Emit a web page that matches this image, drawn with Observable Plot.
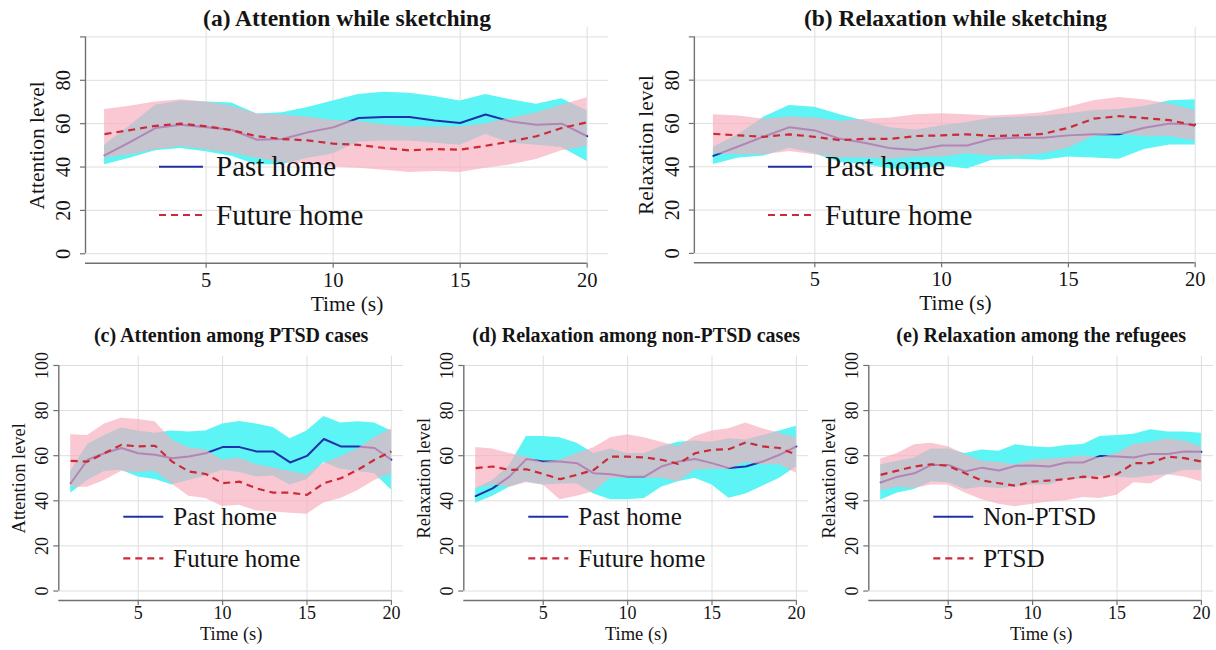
<!DOCTYPE html>
<html>
<head>
<meta charset="utf-8">
<script src="https://cdn.jsdelivr.net/npm/d3@7"></script>
<script src="https://cdn.jsdelivr.net/npm/@observablehq/plot@0.6"></script>
<style>
  body { margin: 0; background: #fff; }
  #fig { position: relative; width: 1216px; height: 650px; overflow: hidden; background: #fff;
         font-family: "Liberation Serif", "Times New Roman", "DejaVu Serif", serif; }
  .panel { position: absolute; }
  #overlay { position: absolute; left: 0; top: 0; pointer-events: none; }
</style>
</head>
<body>
<div id="fig"></div>
<script>
// Time axis (seconds) and tick values
const TIME = [1, 2, 3, 4, 5, 6, 7, 8, 9, 10, 11, 12, 13, 14, 15, 16, 17, 18, 19, 20];
const X_TICKS = [5, 10, 15, 20];
const Y_TICKS_TOP = [0, 20, 40, 60, 80];
const Y_TICKS_BOTTOM = [0, 20, 40, 60, 80, 100];
const Y_GRID = [0, 20, 40, 60, 80, 100];

// (a) Attention while sketching
const attnPastMean = [45.4, 51.5, 58.0, 59.5, 58.3, 57.2, 52.6, 52.9, 56.0, 58.3, 62.6, 63.1, 63.1, 61.5, 60.3, 64.2, 61.0, 59.5, 60.0, 54.2];
const attnPastLo   = [41.0, 44.0, 47.5, 48.5, 47.0, 45.0, 41.0, 41.0, 44.0, 46.0, 51.5, 52.0, 52.0, 51.0, 50.0, 55.0, 51.0, 50.0, 49.0, 42.6];
const attnPastHi   = [50.0, 59.0, 68.5, 70.5, 70.0, 69.5, 64.5, 65.0, 67.5, 70.5, 73.5, 74.5, 74.0, 72.5, 70.5, 73.5, 71.0, 69.0, 71.5, 66.0];
const attnFutMean  = [55.2, 57.0, 59.0, 60.0, 58.8, 57.0, 54.2, 52.9, 52.3, 50.8, 50.2, 48.8, 47.7, 48.3, 48.0, 49.8, 51.8, 54.2, 58.0, 60.6];
const attnFutLo    = [44.0, 45.5, 48.0, 49.5, 48.0, 46.5, 44.0, 42.0, 41.5, 40.0, 39.5, 38.5, 37.5, 38.0, 37.5, 39.5, 41.0, 43.5, 47.5, 49.5];
const attnFutHi    = [66.5, 68.0, 70.0, 71.0, 70.0, 68.0, 64.5, 64.0, 63.0, 61.5, 61.0, 59.5, 58.5, 58.5, 58.5, 60.0, 62.5, 65.0, 68.5, 72.0];

// (b) Relaxation while sketching
const relaxPastMean = [45.0, 49.5, 54.0, 58.3, 56.8, 52.9, 51.0, 48.5, 47.7, 49.8, 49.8, 52.9, 53.4, 53.4, 54.5, 55.0, 55.0, 58.0, 60.0, 59.5];
const relaxPastLo   = [41.0, 44.0, 45.0, 48.5, 46.0, 42.0, 41.0, 39.0, 38.5, 40.5, 39.0, 43.0, 43.5, 43.0, 44.5, 44.0, 43.5, 48.0, 50.0, 50.0];
const relaxPastHi   = [49.0, 55.0, 63.0, 68.3, 67.5, 64.0, 61.0, 58.0, 57.0, 59.0, 60.5, 62.5, 63.0, 63.5, 64.5, 66.0, 66.5, 68.0, 70.5, 71.0];
const relaxFutMean  = [55.2, 54.5, 53.8, 55.0, 53.8, 52.3, 52.9, 52.9, 54.2, 54.5, 55.0, 54.2, 54.5, 55.2, 58.0, 62.2, 63.4, 62.5, 61.5, 59.0];
const relaxFutLo    = [46.0, 45.5, 45.5, 47.0, 45.5, 44.0, 44.0, 43.5, 44.5, 44.5, 46.0, 45.0, 45.0, 46.0, 48.5, 54.0, 55.0, 54.0, 54.0, 52.0];
const relaxFutHi    = [64.0, 63.5, 62.0, 63.0, 62.5, 61.0, 62.0, 62.5, 64.0, 64.5, 64.0, 63.5, 64.0, 65.0, 67.5, 70.5, 72.0, 71.0, 69.0, 66.0];

// (c) Attention among PTSD cases
const ptsdPastMean = [47.8, 58.2, 61.1, 63.4, 61.1, 60.4, 58.9, 59.6, 61.1, 63.8, 63.8, 61.9, 61.9, 57.0, 59.9, 67.4, 64.1, 64.1, 63.4, 58.2];
const ptsdPastLo   = [43.3, 49.0, 53.0, 53.5, 50.5, 49.5, 47.0, 49.0, 51.0, 53.5, 52.5, 50.5, 51.0, 47.0, 49.3, 57.0, 54.0, 53.0, 52.0, 44.8];
const ptsdPastHi   = [53.0, 65.0, 69.0, 72.3, 71.0, 70.0, 71.0, 70.5, 71.0, 74.0, 75.2, 74.0, 72.5, 67.5, 71.0, 77.4, 74.5, 75.0, 74.5, 71.0];
const ptsdFutMean  = [57.7, 57.4, 61.1, 64.8, 64.1, 64.4, 57.4, 53.0, 51.9, 47.8, 48.5, 45.5, 43.6, 43.6, 42.6, 47.8, 50.0, 53.7, 58.2, 61.9];
const ptsdFutLo    = [46.0, 46.0, 49.0, 53.0, 52.5, 53.0, 47.5, 42.0, 41.0, 37.5, 38.0, 35.5, 35.0, 34.5, 34.0, 39.0, 41.0, 44.5, 49.0, 52.0];
const ptsdFutHi    = [69.3, 69.0, 74.0, 76.6, 76.0, 75.0, 67.0, 63.5, 62.5, 58.0, 59.0, 56.0, 54.5, 53.0, 51.5, 56.5, 59.5, 63.0, 68.0, 72.0];

// (d) Relaxation among non-PTSD cases
const nonPastMean = [42.1, 45.5, 50.7, 58.5, 57.4, 57.4, 56.7, 52.2, 51.8, 50.7, 50.7, 55.2, 57.4, 58.5, 56.7, 54.5, 55.2, 57.4, 60.4, 64.1];
const nonPastLo   = [38.9, 42.0, 46.0, 48.5, 47.0, 47.5, 47.5, 43.0, 40.5, 40.5, 41.0, 46.0, 48.5, 50.0, 47.0, 41.1, 43.0, 46.5, 50.0, 55.0];
const nonPastHi   = [45.5, 49.0, 55.5, 68.5, 68.5, 68.0, 65.5, 61.0, 63.0, 61.0, 61.0, 64.0, 66.0, 66.5, 66.0, 67.5, 67.0, 69.0, 71.0, 73.0];
const nonFutMean  = [54.5, 55.2, 53.7, 54.0, 51.9, 49.6, 51.5, 53.7, 59.6, 59.6, 59.2, 58.2, 56.4, 61.1, 62.6, 62.9, 65.9, 64.1, 63.4, 60.4];
const nonFutLo    = [45.5, 47.0, 46.0, 48.0, 47.0, 40.5, 42.0, 44.0, 50.0, 50.0, 50.0, 50.0, 48.5, 53.5, 54.0, 54.0, 57.0, 56.0, 56.0, 52.2];
const nonFutHi    = [63.6, 63.0, 61.0, 59.5, 57.0, 58.0, 61.0, 63.5, 68.0, 69.3, 68.0, 66.0, 64.0, 68.5, 71.0, 72.0, 74.5, 72.0, 70.0, 68.0];

// (e) Relaxation among the refugees: non-PTSD vs PTSD
const refNonMean  = [48.1, 50.7, 52.2, 55.9, 55.9, 53.0, 54.7, 53.4, 55.5, 55.6, 55.2, 57.0, 57.0, 59.9, 59.6, 59.2, 60.8, 60.8, 61.9, 61.7];
const refNonLo    = [40.4, 43.5, 45.0, 48.5, 48.0, 45.0, 46.0, 45.5, 46.0, 47.0, 47.0, 49.5, 49.5, 51.0, 50.5, 50.0, 51.0, 51.5, 53.5, 53.5];
const refNonHi    = [56.0, 57.5, 59.0, 63.0, 63.0, 61.0, 62.5, 62.0, 64.8, 64.0, 63.5, 64.5, 65.0, 68.5, 69.0, 69.5, 71.5, 70.5, 70.5, 70.0];
const refPtsdMean = [51.5, 53.4, 55.2, 56.2, 55.5, 52.2, 49.0, 47.8, 46.7, 48.5, 49.0, 49.6, 50.7, 50.0, 51.8, 56.7, 56.7, 59.6, 58.9, 57.4];
const refPtsdLo   = [44.5, 46.0, 45.5, 47.0, 47.0, 43.5, 40.5, 38.5, 37.4, 38.5, 39.5, 40.0, 41.5, 41.0, 42.5, 48.0, 47.5, 51.5, 50.5, 48.5];
const refPtsdHi   = [58.5, 61.0, 64.8, 65.5, 64.0, 60.5, 57.5, 57.0, 56.0, 58.0, 58.5, 59.0, 60.0, 59.0, 61.0, 65.0, 66.0, 67.5, 66.5, 64.0];

// Styling
const FONT = "'Liberation Serif', 'Times New Roman', 'DejaVu Serif', serif";
const CYAN = "#5cf4f4";
const PINK = "#f8aebd";
const PINK_OPACITY = 0.68;
const PAST_STROKE = "#2030a8";
const FUTURE_STROKE = "#cc2a36";
const DASH = "7,5";
const GRID = "#dedede";
const AXIS = "#707070";
const INK = "#141414";

// Row layouts (pixel geometry of each panel row)
const ROWS = {
  top: {
    top: 0, width: 608, height: 310,
    marginLeft: 85, marginRight: 0, marginTop: 27.1, marginBottom: 47.3,
    xDomain: [0.25, 20.84], yDomain: [-4.34, 104.3], yTicks: Y_TICKS_TOP,
    tickFont: 20.5, axisFont: 21.5, titleFont: 23.5, legendFont: 29,
    yTickDx: -22, yTitleDx: -48, xTickDy: 17, xTitleDy: 40.8, titleDy: -8.8,
    legendLine: [159, 203], legendText: 216, legendY: [166.7, 215]
  },
  bottom: {
    top: 320, width: 405, height: 330,
    marginLeft: 58.3, marginRight: 2, marginTop: 35.5, marginBottom: 50,
    xDomain: [0.295, 20.717], yDomain: [-4.2, 104.2], yTicks: Y_TICKS_BOTTOM,
    tickFont: 18, axisFont: 18.5, titleFont: 20, legendFont: 25,
    yTickDx: -16.6, yTitleDx: -40, xTickDy: 13, xTitleDy: 33.8, titleDy: -20.5,
    legendLine: [123.3, 163.3], legendText: 173.3, legendY: [196.7, 238.3]
  }
};

const PANELS = [
  { row: "top", left: 0, title: "(a) Attention while sketching", yLabel: "Attention level",
    names: ["Past home", "Future home"],
    past: [attnPastMean, attnPastLo, attnPastHi], future: [attnFutMean, attnFutLo, attnFutHi] },
  { row: "top", left: 609, title: "(b) Relaxation while sketching", yLabel: "Relaxation level",
    names: ["Past home", "Future home"],
    past: [relaxPastMean, relaxPastLo, relaxPastHi], future: [relaxFutMean, relaxFutLo, relaxFutHi] },
  { row: "bottom", left: 0, title: "(c) Attention among PTSD cases", yLabel: "Attention level",
    names: ["Past home", "Future home"],
    past: [ptsdPastMean, ptsdPastLo, ptsdPastHi], future: [ptsdFutMean, ptsdFutLo, ptsdFutHi] },
  { row: "bottom", left: 405, title: "(d) Relaxation among non-PTSD cases", yLabel: "Relaxation level",
    names: ["Past home", "Future home"],
    past: [nonPastMean, nonPastLo, nonPastHi], future: [nonFutMean, nonFutLo, nonFutHi] },
  { row: "bottom", left: 810, title: "(e) Relaxation among the refugees", yLabel: "Relaxation level",
    names: ["Non-PTSD", "PTSD"],
    past: [refNonMean, refNonLo, refNonHi], future: [refPtsdMean, refPtsdLo, refPtsdHi] }
];

const fig = document.getElementById("fig");

function drawPanel(p) {
  const g = ROWS[p.row];
  const rows = TIME.map((t, i) => ({
    t,
    pm: p.past[0][i], pl: p.past[1][i], ph: p.past[2][i],
    fm: p.future[0][i], fl: p.future[1][i], fh: p.future[2][i]
  }));
  const chart = Plot.plot({
    width: g.width, height: g.height,
    marginLeft: g.marginLeft, marginRight: g.marginRight,
    marginTop: g.marginTop, marginBottom: g.marginBottom,
    x: { domain: g.xDomain, axis: null },
    y: { domain: g.yDomain, axis: null },
    style: { fontFamily: FONT, background: "transparent", color: INK, overflow: "visible" },
    marks: [
      // grid
      Plot.gridX(X_TICKS, { stroke: GRID, strokeOpacity: 1, strokeWidth: 1 }),
      Plot.gridY(Y_GRID, { stroke: GRID, strokeOpacity: 1, strokeWidth: 1 }),
      // confidence bands and means: past (cyan / blue) under future (pink / red dashed)
      Plot.areaY(rows, { x: "t", y1: "pl", y2: "ph", fill: CYAN }),
      Plot.line(rows, { x: "t", y: "pm", stroke: PAST_STROKE, strokeWidth: 2 }),
      Plot.areaY(rows, { x: "t", y1: "fl", y2: "fh", fill: PINK, fillOpacity: PINK_OPACITY }),
      Plot.line(rows, { x: "t", y: "fm", stroke: FUTURE_STROKE, strokeWidth: 2.2, strokeDasharray: DASH, strokeLinecap: "butt" }),
      // axis lines
      Plot.ruleX([g.xDomain[0]], { y1: g.yTicks[0], y2: Y_GRID[Y_GRID.length - 1], stroke: AXIS, strokeWidth: 1.4 }),
      Plot.ruleY([g.yDomain[0]], { x1: g.xDomain[0], x2: X_TICKS[X_TICKS.length - 1], stroke: AXIS, strokeWidth: 1.4 }),
      // tick marks
      Plot.axisX(X_TICKS, { tickSize: 5, fill: "none", stroke: AXIS, strokeWidth: 1.2, label: null }),
      Plot.axisY(Y_GRID, { tickSize: 5, fill: "none", stroke: AXIS, strokeWidth: 1.2, label: null }),
      // tick labels
      Plot.text(X_TICKS, { x: d => d, frameAnchor: "bottom", dy: g.xTickDy, text: d => String(d),
        fontSize: g.tickFont, fill: INK, lineAnchor: "middle" }),
      Plot.text(g.yTicks, { y: d => d, frameAnchor: "left", dx: g.yTickDx, text: d => String(d),
        rotate: -90, fontSize: g.tickFont, fill: INK, textAnchor: "middle", lineAnchor: "middle" }),
      // axis titles
      Plot.text([p.yLabel], { y: 50, frameAnchor: "left", dx: g.yTitleDx, text: d => d,
        rotate: -90, fontSize: g.axisFont, fill: INK, textAnchor: "middle", lineAnchor: "middle" }),
      Plot.text(["Time (s)"], { frameAnchor: "bottom", dy: g.xTitleDy, text: d => d,
        fontSize: g.axisFont, fill: INK, lineAnchor: "middle" }),
      // panel title
      Plot.text([p.title], { frameAnchor: "top", dy: g.titleDy, text: d => d,
        fontSize: g.titleFont, fontWeight: "bold", fill: INK, lineAnchor: "middle" })
    ]
  });
  const holder = document.createElement("div");
  holder.className = "panel";
  holder.style.left = p.left + "px";
  holder.style.top = g.top + "px";
  holder.appendChild(chart);
  fig.appendChild(holder);
}

PANELS.forEach(drawPanel);

// In-plot legends
const overlay = d3.select(fig).append("svg")
  .attr("id", "overlay").attr("width", 1216).attr("height", 650);
PANELS.forEach(p => {
  const g = ROWS[p.row];
  const styles = [
    { stroke: PAST_STROKE, dash: null, width: 2 },
    { stroke: FUTURE_STROKE, dash: DASH, width: 2.2 }
  ];
  p.names.forEach((name, i) => {
    const y = g.top + g.legendY[i];
    overlay.append("line")
      .attr("x1", p.left + g.legendLine[0]).attr("x2", p.left + g.legendLine[1])
      .attr("y1", y).attr("y2", y)
      .attr("stroke", styles[i].stroke).attr("stroke-width", styles[i].width)
      .attr("stroke-dasharray", styles[i].dash);
    overlay.append("text")
      .attr("x", p.left + g.legendText).attr("y", y + 0.33 * g.legendFont)
      .attr("font-size", g.legendFont)
      .attr("font-family", FONT)
      .attr("fill", INK)
      .text(name);
  });
});
</script>
</body>
</html>
